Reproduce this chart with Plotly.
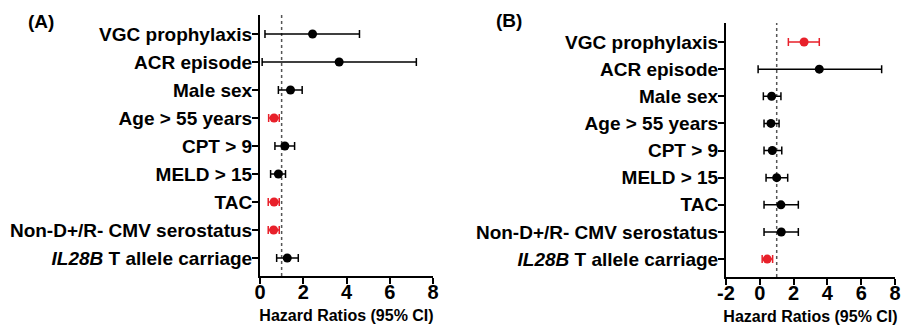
import plotly.graph_objects as go

categories = ["VGC prophylaxis", "ACR episode", "Male sex", "Age > 55 years", "CPT > 9",
              "MELD > 15", "TAC", "Non-D+/R- CMV serostatus", "<i>IL28B</i> T allele carriage"]

# Panel A
hr_a = [2.43, 3.66, 1.41, 0.65, 1.15, 0.85, 0.65, 0.63, 1.26]
lo_a = [0.23, 0.10, 0.85, 0.40, 0.69, 0.49, 0.38, 0.38, 0.77]
hi_a = [4.60, 7.23, 1.95, 0.89, 1.60, 1.18, 0.89, 0.89, 1.77]
sig_a = [False, False, False, True, False, False, True, True, False]

# Panel B
hr_b = [2.62, 3.52, 0.70, 0.66, 0.74, 1.00, 1.25, 1.27, 0.44]
lo_b = [1.69, -0.10, 0.21, 0.25, 0.25, 0.37, 0.25, 0.25, 0.14]
hi_b = [3.52, 7.21, 1.25, 1.14, 1.30, 1.65, 2.28, 2.28, 0.76]
sig_b = [True, False, False, False, False, False, False, False, True]

x_ticks_a = [0, 2, 4, 6, 8]
x_ticklabels_a = ["0", "2", "4", "6", "8"]
x_ticks_b = [-2, 0, 2, 4, 6, 8]
x_ticklabels_b = ["-2", "0", "2", "4", "6", "8"]

RED = "#E8202A"
BLACK = "#000000"
FONT = "Liberation Sans"

fig = go.Figure()

def add_panel(hr, lo, hi, sig, xa, ya):
    for i, cat in enumerate(categories):
        col = RED if sig[i] else BLACK
        fig.add_trace(go.Scatter(
            x=[hr[i]], y=[cat], mode="markers",
            marker=dict(color=col, size=9),
            error_x=dict(type="data", symmetric=False,
                         array=[hi[i] - hr[i]], arrayminus=[hr[i] - lo[i]],
                         color=col, thickness=1.5, width=4),
            xaxis=xa, yaxis=ya, showlegend=False, hoverinfo="skip"))

add_panel(hr_a, lo_a, hi_a, sig_a, "x", "y")
add_panel(hr_b, lo_b, hi_b, sig_b, "x2", "y2")

W, H = 901, 329

def px_x(p):
    return p / W

def px_y(p):
    return 1 - p / H

axis_common = dict(showline=True, linecolor="black", linewidth=2, ticks="outside",
                   ticklen=6, tickwidth=2, tickcolor="black", showgrid=False,
                   zeroline=False, automargin=False)

xtitle = dict(text="Hazard Ratios (95% CI)", font=dict(size=16, weight="bold"), standoff=8)

fig.update_layout(
    width=W, height=H,
    margin=dict(l=0, r=0, t=0, b=0),
    plot_bgcolor="white", paper_bgcolor="white",
    font=dict(family=FONT, color="black"),
    xaxis=dict(domain=[px_x(260), px_x(433)], range=[0, 8],
               tickvals=x_ticks_a, ticktext=x_ticklabels_a,
               tickfont=dict(size=20, weight="bold"), ticklabelstandoff=-9, title=xtitle,
               anchor="y", **axis_common),
    yaxis=dict(domain=[px_y(276), px_y(15)], type="category", categoryorder="array",
               categoryarray=categories, range=[8.643, -0.679],
               tickfont=dict(size=19, weight="bold"), ticklabelstandoff=-4,
               anchor="x", **axis_common),
    xaxis2=dict(domain=[px_x(726), px_x(895)], range=[-2, 8],
                tickvals=x_ticks_b, ticktext=x_ticklabels_b,
                tickfont=dict(size=20, weight="bold"), ticklabelstandoff=-9, title=xtitle,
                anchor="y2", **axis_common),
    yaxis2=dict(domain=[px_y(277), px_y(23)], type="category", categoryorder="array",
                categoryarray=categories, range=[8.66, -0.70],
                tickfont=dict(size=19, weight="bold"), ticklabelstandoff=-4,
                anchor="x2", **axis_common),
)

for xr, yr in [("x", "y domain"), ("x2", "y2 domain")]:
    fig.add_shape(type="line", x0=1, x1=1, y0=0, y1=1, xref=xr, yref=yr,
                  line=dict(color="#555555", width=1.5, dash="dot"), layer="below")

fig.add_annotation(text="(A)", x=px_x(41), y=px_y(22), xref="paper", yref="paper",
                   showarrow=False, font=dict(size=19, weight="bold"),
                   xanchor="center", yanchor="middle")
fig.add_annotation(text="(B)", x=px_x(509), y=px_y(21), xref="paper", yref="paper",
                   showarrow=False, font=dict(size=19, weight="bold"),
                   xanchor="center", yanchor="middle")

fig.write_html("out.html", config={"displayModeBar": False},
               post_script="document.body.style.margin='0';document.body.style.padding='0';")
